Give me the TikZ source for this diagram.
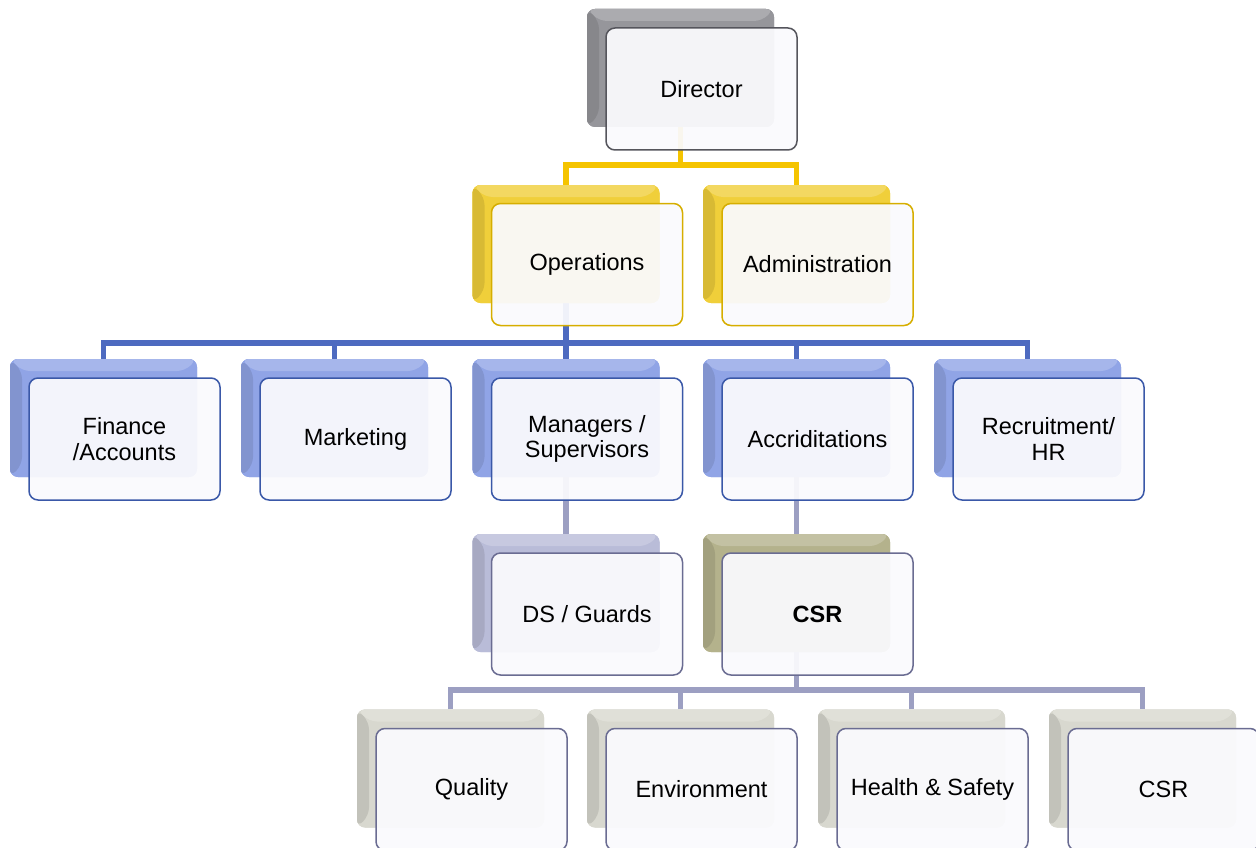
\documentclass[tikz,border=0pt]{standalone}
\usepackage{fontspec}
\setmainfont{Liberation Sans}
\definecolor{yel}{HTML}{F5C400}
\definecolor{blu}{HTML}{4D6AC0}
\definecolor{gry}{HTML}{9C9FC2}
\definecolor{dirsh}{HTML}{96969B}
\definecolor{opssh}{HTML}{F0CF3A}
\definecolor{blush}{HTML}{90A4E6}
\definecolor{dssh}{HTML}{B9BCD8}
\definecolor{csrsh}{HTML}{B4B28C}
\definecolor{qsh}{HTML}{D8D8CF}
\definecolor{dirbd}{HTML}{55555C}
\definecolor{opsbd}{HTML}{D6AE00}
\definecolor{blubd}{HTML}{3A58A8}
\definecolor{gybd}{HTML}{6A6C92}
\definecolor{frontfill}{HTML}{FAFAFD}
\begin{document}
\begin{tikzpicture}[x=1pt,y=-1pt,
  shadowbox/.style={draw=none, rounded corners=8pt, minimum width=187pt, minimum height=118pt, inner sep=0pt, fill=#1,
    path picture={
      \fill[#1!80!white] (path picture bounding box.north west) -- (path picture bounding box.north east)
        -- ([xshift=-12pt,yshift=-12pt]path picture bounding box.north east)
        -- ([xshift=12pt,yshift=-12pt]path picture bounding box.north west) -- cycle;
      \fill[#1!90!black] (path picture bounding box.north west) -- ([xshift=12pt,yshift=-12pt]path picture bounding box.north west)
        -- ([xshift=12pt,yshift=12pt]path picture bounding box.south west) -- (path picture bounding box.south west) -- cycle;
    }},
  frontbox/.style={draw=#1, line width=1.5pt, rounded corners=9pt, minimum width=191pt, minimum height=122pt,
    fill=frontfill, fill opacity=0.94, text opacity=1, draw opacity=1, align=center, inner sep=2pt,
    font=\fontsize{23.5}{25.5}\selectfont},
  conn/.style={line width=5.5pt, draw=#1, line cap=butt, line join=miter}]
\useasboundingbox (0,0) rectangle (1256,848);
\clip (0,0) rectangle (1256,848);
\coordinate (ybus) at (0,165);
\coordinate (bbus) at (0,343);
\coordinate (gbus) at (0,690);
% shadows
\node[shadowbox=dirsh] (dirS) at (680.5,68) {};
\node[shadowbox=opssh] (opsS) at (566,244) {};
\node[shadowbox=opssh] (admS) at (796.5,244) {};
\node[shadowbox=blush] (finS) at (103.5,418) {};
\node[shadowbox=blush] (mktS) at (334.5,418) {};
\node[shadowbox=blush] (mgrS) at (566,418) {};
\node[shadowbox=blush] (accS) at (796.5,418) {};
\node[shadowbox=blush] (recS) at (1027.5,418) {};
\node[shadowbox=dssh] (dsS) at (566,593) {};
\node[shadowbox=csrsh] (csrS) at (796.5,593) {};
\node[shadowbox=qsh] (qS) at (450.5,768.5) {};
\node[shadowbox=qsh] (envS) at (680.5,768.5) {};
\node[shadowbox=qsh] (hsS) at (911.5,768.5) {};
\node[shadowbox=qsh] (c2S) at (1142.5,768.5) {};
% connectors
\draw[conn=yel] (dirS.south) -- (dirS.south |- ybus) -| (opsS.north);
\draw[conn=yel] (dirS.south |- ybus) -| (admS.north);
\draw[conn=blu] (opsS.south) -- (opsS.south |- bbus);
\draw[conn=blu] (finS.north) |- (recS.north |- bbus) -- (recS.north);
\draw[conn=blu] (mktS.north) -- (mktS.north |- bbus);
\draw[conn=blu] (mgrS.north) -- (mgrS.north |- bbus);
\draw[conn=blu] (accS.north) -- (accS.north |- bbus);
\draw[conn=gry] (mgrS.south) -- (dsS.north);
\draw[conn=gry] (accS.south) -- (csrS.north);
\draw[conn=gry] (csrS.south) -- (csrS.south |- gbus);
\draw[conn=gry] (qS.north) |- (c2S.north |- gbus) -- (c2S.north);
\draw[conn=gry] (envS.north) -- (envS.north |- gbus);
\draw[conn=gry] (hsS.north) -- (hsS.north |- gbus);
% redraw shadows over connector ends
\foreach \s/\c in {dirS/dirsh,opsS/opssh,admS/opssh,finS/blush,mktS/blush,mgrS/blush,accS/blush,recS/blush,dsS/dssh,csrS/csrsh,qS/qsh,envS/qsh,hsS/qsh,c2S/qsh}
  \node[shadowbox=\c] at (\s.center) {};
% front boxes
\node[frontbox=dirbd] (dir) at (701.5,89) {Director};
\node[frontbox=opsbd] (ops) at (587,264.5) {Operations};
\node[frontbox=opsbd] (adm) at (817.5,264.5) {Administration};
\node[frontbox=blubd] (fin) at (124.5,439) {Finance\\/Accounts};
\node[frontbox=blubd] (mkt) at (355.5,439) {Marketing};
\node[frontbox=blubd] (mgr) at (587,439) {Managers /\\Supervisors};
\node[frontbox=blubd] (acc) at (817.5,439) {Accriditations};
\node[frontbox=blubd] (rec) at (1048.5,439) {Recruitment/\\HR};
\node[frontbox=gybd] (ds) at (587,614) {DS / Guards};
\node[frontbox=gybd] (csr) at (817.5,614) {\bfseries CSR};
\node[frontbox=gybd] (q) at (471.5,789.5) {Quality};
\node[frontbox=gybd] (env) at (701.5,789.5) {Environment};
\node[frontbox=gybd] (hs) at (932.5,789.5) {Health \& Safety};
\node[frontbox=gybd] (c2) at (1163.5,789.5) {CSR};
\end{tikzpicture}
\end{document}
